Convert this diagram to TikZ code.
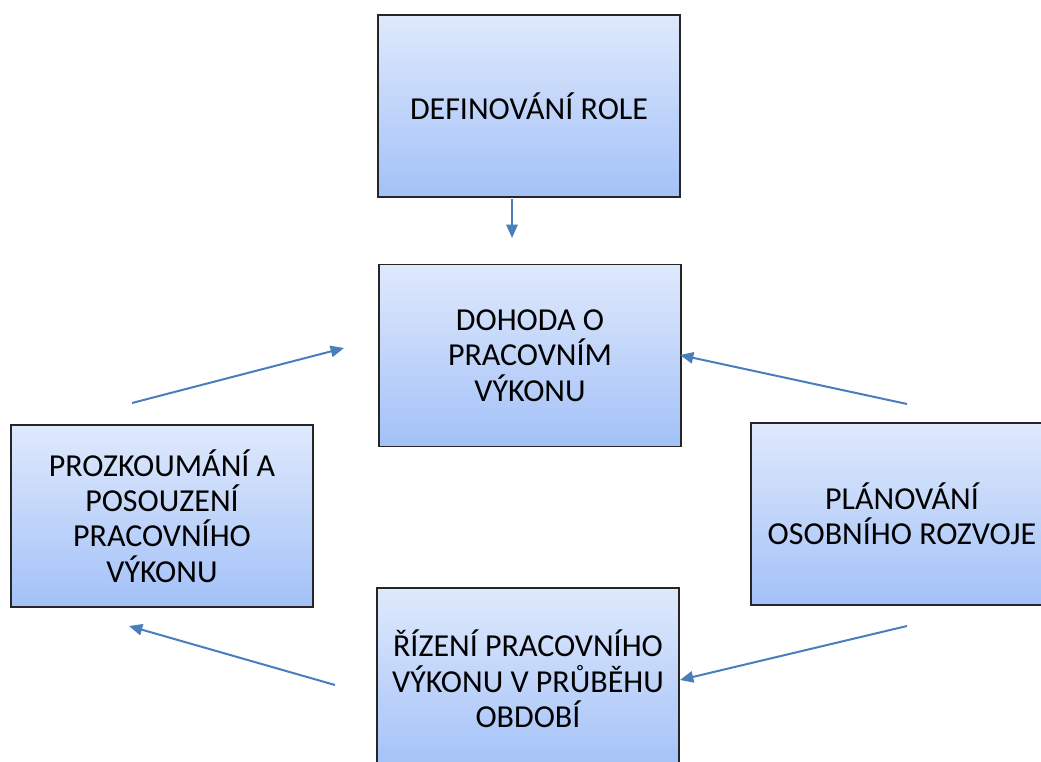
\documentclass[tikz,border=0pt]{standalone}
\usepackage{fontspec}
\setmainfont{Carlito}
\usetikzlibrary{arrows.meta}
\definecolor{boxtop}{HTML}{DFE9FC}
\definecolor{boxbot}{HTML}{A3C1F8}
\definecolor{boxline}{HTML}{262626}
\definecolor{arrowblue}{HTML}{4A7EBB}
\begin{document}
\begin{tikzpicture}[x=0.75pt,y=-0.75pt,
  stagebox/.style={draw=boxline,line width=1.1pt,top color=boxtop,bottom color=boxbot,
    minimum width=226.5pt,minimum height=136.5pt,inner sep=0pt,align=center,
    font=\fontsize{24}{26.5}\selectfont,text=black},
  flow/.style={draw=arrowblue,line width=1.5pt,-{Triangle[length=10pt,width=8.5pt]}}]
\useasboundingbox (0,0) rectangle (1041,762);
\clip (0,0) rectangle (1041,762);
\node[stagebox] (role) at (529,106) {DEFINOVÁNÍ ROLE};
\node[stagebox] (dohoda) at (530,355.5) {DOHODA O\\PRACOVNÍM\\VÝKONU};
\node[stagebox] (prozk) at (162,516) {PROZKOUMÁNÍ A\\POSOUZENÍ\\PRACOVNÍHO\\VÝKONU};
\node[stagebox] (plan) at (902,514) {PLÁNOVÁNÍ\\OSOBNÍHO ROZVOJE};
\node[stagebox] (rizeni) at (528,679) {ŘÍZENÍ PRACOVNÍHO\\VÝKONU V PRŮBĚHU\\OBDOBÍ};
\coordinate (a1s) at (512,199);
\coordinate (a1e) at (512,238);
\coordinate (a2s) at (132,403);
\coordinate (a2e) at (344,348);
\coordinate (a3s) at (907,404);
\coordinate (a3e) at (680,355);
\coordinate (a4s) at (907,626);
\coordinate (a4e) at (680,680);
\coordinate (a5s) at (335,685);
\coordinate (a5e) at (129,626);
\draw[flow] (a1s) -- (a1e);
\draw[flow] (a2s) -- (a2e);
\draw[flow] (a3s) -- (a3e);
\draw[flow] (a4s) -- (a4e);
\draw[flow] (a5s) -- (a5e);
\end{tikzpicture}
\end{document}
